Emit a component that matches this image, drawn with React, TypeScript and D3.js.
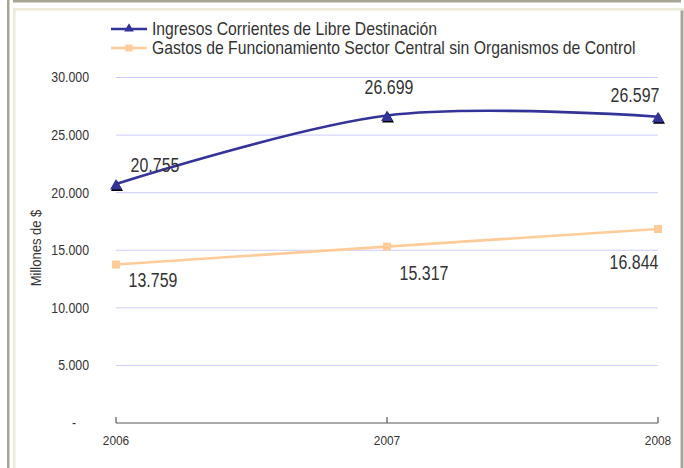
import React from "react";
import * as d3 from "d3";

const years = ["2006", "2007", "2008"];
const ingresos = [20755, 26699, 26597];
const gastos = [13759, 15317, 16844];
const yTicks = [0, 5000, 10000, 15000, 20000, 25000, 30000];
const seriesNames = [
  "Ingresos Corrientes de Libre Destinación",
  "Gastos de Funcionamiento Sector Central sin Organismos de Control",
];

const W = 684;
const H = 468;
const FONT = "'Liberation Sans', Arial, sans-serif";

// label offsets relative to points (layout only)
const ingresosLabelOffsets = [
  [39, -12],
  [2, -22],
  [-23, -15],
];
const gastosLabelOffsets = [
  [37, 22],
  [37, 33],
  [-24, 40],
];

const fmt = (v: number) => (v === 0 ? "-" : d3.format(",")(v).replace(/,/g, "."));

type TxtProps = {
  x: number;
  y: number;
  size: number;
  sx: number;
  anchor?: "start" | "middle" | "end";
  dy?: string;
  rotate?: number;
  children: React.ReactNode;
};

function Txt({ x, y, size, sx, anchor = "start", dy, rotate = 0, children }: TxtProps) {
  return (
    <text
      transform={`translate(${x},${y}) rotate(${rotate}) scale(${sx},1)`}
      textAnchor={anchor}
      dy={dy}
      fontSize={size}
      fill="#333333"
    >
      {children}
    </text>
  );
}

export default function App() {
  const x = d3.scalePoint<string>().domain(years).range([116, 658]);
  const y = d3.scaleLinear().domain([0, 30000]).range([423, 77.5]);

  const line = d3
    .line<number>()
    .x((_, i) => x(years[i]) as number)
    .y((d) => y(d))
    .curve(d3.curveCardinal.tension(0));

  const navy = "#333399";
  const orange = "#FFCC99";
  const grid = "#CCCCFF";

  const tri = (cx: number, cy: number, s: number) =>
    `M${cx},${cy - s * 0.6}L${cx + s * 0.6},${cy + s * 0.45}L${cx - s * 0.6},${cy + s * 0.45}Z`;

  return (
    <div style={{ position: "fixed", left: 0, top: 0, width: W, height: H, background: "#fff" }}>
      <svg width={W} height={H} style={{ display: "block" }} fontFamily={FONT}>
        <rect x={0} y={0} width={W} height={H} fill="#fff" />
        {/* frame */}
        <rect x={7} y={0} width={2.5} height={H} fill="#A8A597" />
        <rect x={13} y={0} width={668} height={2.5} fill="#A8A597" />
        <rect x={680.5} y={10} width={3} height={H - 10} fill="#A8A597" />
        <rect x={13} y={8} width={2.5} height={H - 8} fill="#ECEAD9" />
        <rect x={13} y={8} width={671} height={2.5} fill="#ECEAD9" />

        {/* gridlines */}
        {yTicks
          .filter((t) => t > 0)
          .map((t) => (
            <line key={t} x1={116} x2={658} y1={y(t)} y2={y(t)} stroke={grid} strokeWidth={1} />
          ))}
        {/* y tick labels */}
        {yTicks.map((t) => (
          <Txt key={t} x={t === 0 ? 76 : 89} y={y(t)} dy="0.35em" anchor="end" size={14} sx={0.88}>
            {fmt(t)}
          </Txt>
        ))}
        {/* axis title */}
        <Txt x={41} y={248} rotate={-90} anchor="middle" size={14} sx={0.93}>
          Millones de $
        </Txt>

        {/* x axis */}
        <line x1={116} x2={658} y1={423} y2={423} stroke="#555" strokeWidth={1.2} />
        {years.map((yr) => (
          <g key={yr}>
            <line x1={x(yr)} x2={x(yr)} y1={423} y2={417} stroke="#555" strokeWidth={1.2} />
            <Txt x={x(yr) as number} y={445} anchor="middle" size={13.5} sx={0.88}>
              {yr}
            </Txt>
          </g>
        ))}

        {/* series lines */}
        <path d={line(gastos) || ""} fill="none" stroke={orange} strokeWidth={2.6} />
        <path d={line(ingresos) || ""} fill="none" stroke={navy} strokeWidth={2.6} />

        {/* markers */}
        {gastos.map((v, i) => (
          <rect key={i} x={(x(years[i]) as number) - 4} y={y(v) - 4} width={8} height={8} fill={orange} />
        ))}
        {ingresos.map((v, i) => {
          const cx = x(years[i]) as number;
          const cy = y(v) + 1;
          return (
            <g key={i}>
              <path d={tri(cx + 1, cy + 1.5, 10)} fill="#000" />
              <path d={tri(cx, cy, 10)} fill={navy} />
            </g>
          );
        })}

        {/* data labels */}
        {ingresos.map((v, i) => (
          <Txt
            key={i}
            x={(x(years[i]) as number) + ingresosLabelOffsets[i][0]}
            y={y(v) + ingresosLabelOffsets[i][1]}
            anchor="middle"
            size={21}
            sx={0.76}
          >
            {fmt(v)}
          </Txt>
        ))}
        {gastos.map((v, i) => (
          <Txt
            key={i}
            x={(x(years[i]) as number) + gastosLabelOffsets[i][0]}
            y={y(v) + gastosLabelOffsets[i][1]}
            anchor="middle"
            size={21}
            sx={0.76}
          >
            {fmt(v)}
          </Txt>
        ))}

        {/* legend */}
        {seriesNames.map((name, i) => {
          const ly = 29 + i * 19;
          const color = i === 0 ? navy : orange;
          return (
            <g key={name}>
              <line x1={111} x2={147} y1={ly} y2={ly} stroke={color} strokeWidth={2.6} />
              {i === 0 ? (
                <path d={tri(129, ly - 1, 8)} fill={navy} />
              ) : (
                <rect x={125.5} y={ly - 3.5} width={7} height={7} fill={orange} />
              )}
              <Txt x={152} y={ly} dy="0.35em" size={17.5} sx={0.9}>
                {name}
              </Txt>
            </g>
          );
        })}
      </svg>
    </div>
  );
}
